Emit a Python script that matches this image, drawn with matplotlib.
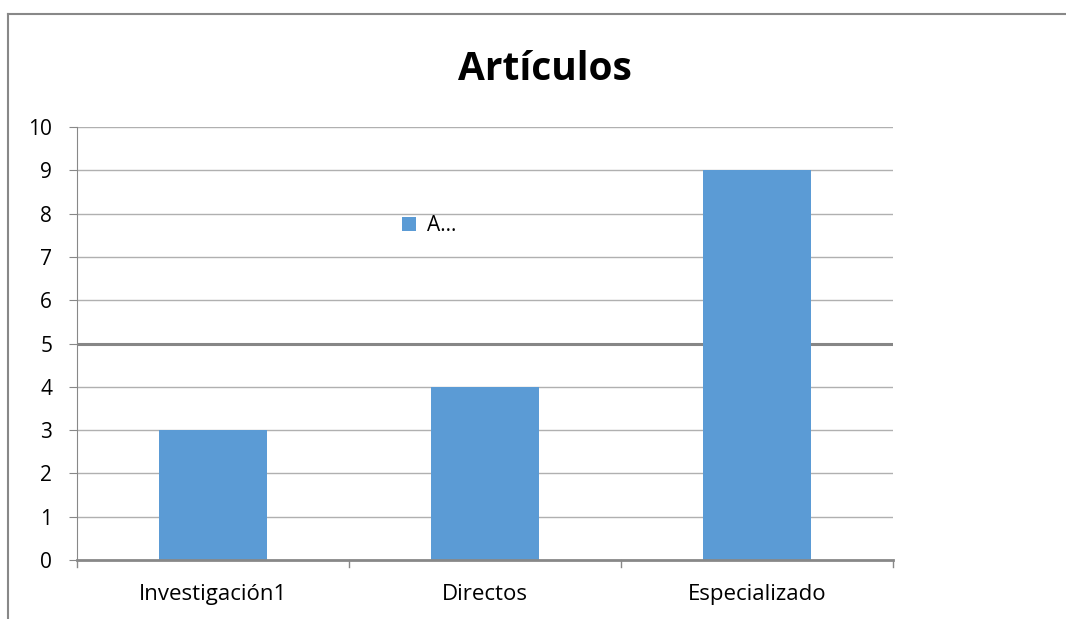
import matplotlib.pyplot as plt
from matplotlib.lines import Line2D

categories = ["Investigación1", "Directos", "Especializado"]
values = [3, 4, 9]
series_name = "A..."
yticks = list(range(0, 11))

plt.rcParams['font.family'] = ['Open Sans', 'DejaVu Sans']

fig = plt.figure(figsize=(10.66, 6.19), dpi=100)
ax = fig.add_axes([0.0722, 0.0953, 0.7655, 0.6995])

x = list(range(len(categories)))
ax.bar(x, values, width=0.395, color="#5b9bd5", zorder=3, label=series_name)

ax.set_xlim(-0.5, len(categories) - 0.5)
ax.set_ylim(0, 10)
ax.set_yticks(yticks)
ax.set_yticklabels([str(t) for t in yticks], fontsize=15)

ax.set_xticks(x)
ax.set_xticklabels(categories, fontsize=16)
ax.tick_params(axis="x", length=0, pad=17)
ax.tick_params(axis="y", length=5.8, color="#888888", pad=12)

# category separators on the x axis
for b in [-0.5, 0.5, 1.5, 2.5]:
    ax.plot([b, b], [0, -0.17], color="#888888", lw=1, clip_on=False)

for t in yticks[1:]:
    if t == 5:
        ax.axhline(t, color="#868686", lw=2.2, zorder=1)
    else:
        ax.axhline(t, color="#b0b0b0", lw=1, zorder=1)

for s in ["top", "right"]:
    ax.spines[s].set_visible(False)
ax.spines["left"].set_color("#888888")
ax.spines["bottom"].set_color("#888888")
ax.spines["bottom"].set_linewidth(2)
ax.spines["bottom"].set_zorder(4)

ax.legend(loc="upper left", bbox_to_anchor=(0.38, 0.83), frameon=False,
          fontsize=15, handlelength=0.7, handleheight=0.7, handletextpad=0.5,
          borderpad=0.2)

fig.text(0.511, 0.887, "Artículos", ha="center", va="center",
         fontsize=28, fontweight="bold")

# outer chart frame (top and left edges)
fig.add_artist(Line2D([0.0075, 1.0], [1 - 14 / 619, 1 - 14 / 619],
                      color="#888888", lw=1.5, transform=fig.transFigure))
fig.add_artist(Line2D([0.0075, 0.0075], [0.0, 1 - 14 / 619],
                      color="#888888", lw=1.5, transform=fig.transFigure))

plt.savefig("out.png", dpi=100)
